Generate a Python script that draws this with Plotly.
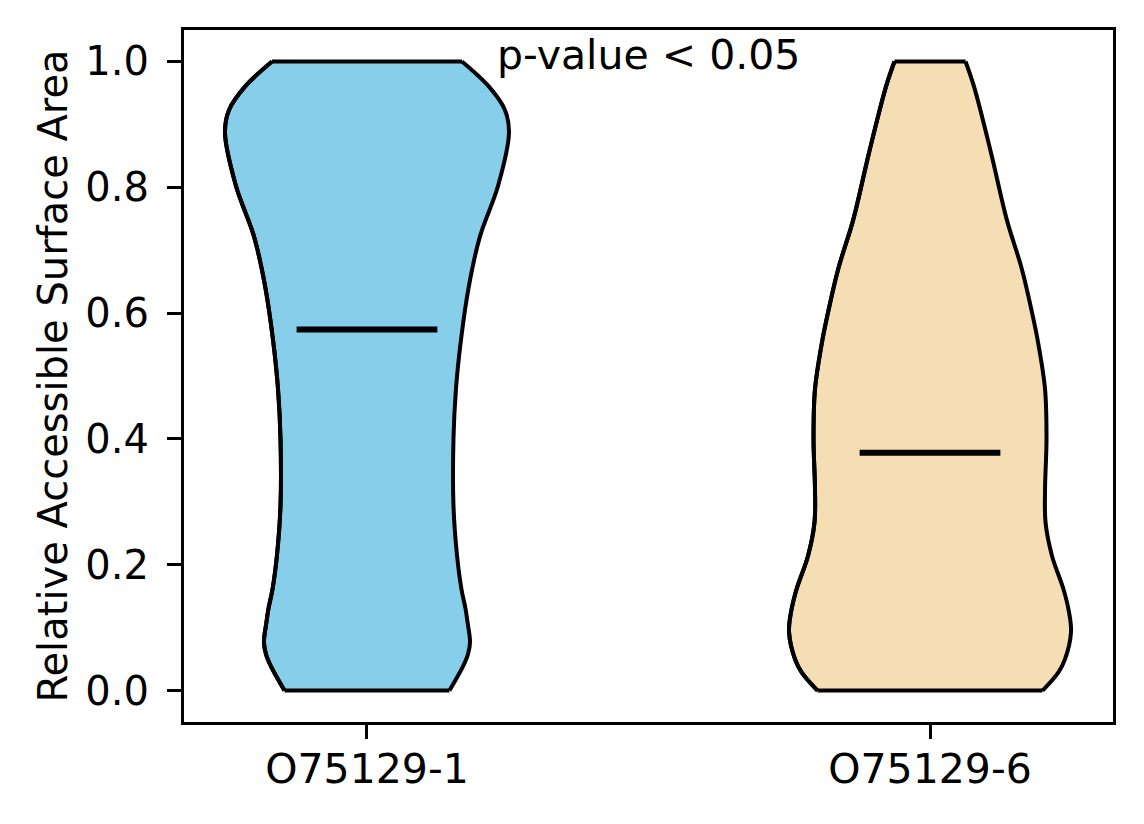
import plotly.graph_objects as go

# Group names and positions on the x axis
groups = ["O75129-1", "O75129-6"]
positions = [1, 2]
colors = ["#87CEEB", "#F5DEB3"]

# Violin outlines: y level and half-width (x units)
blue_y = [0.0, 0.040, 0.058, 0.077, 0.109, 0.130, 0.161, 0.214, 0.294, 0.400, 0.479,
          0.558, 0.643, 0.722, 0.802, 0.887, 0.923, 0.960, 1.0]
blue_hw = [0.1465, 0.1714, 0.1795, 0.183, 0.1785, 0.175, 0.1678, 0.160, 0.1536, 0.1536, 0.158,
           0.167, 0.181, 0.2007, 0.2327, 0.2522, 0.245, 0.2167, 0.1687]

wheat_y = [0.0, 0.029, 0.050, 0.093, 0.124, 0.161, 0.214, 0.267, 0.320, 0.400, 0.479,
           0.558, 0.590, 0.669, 0.749, 0.855, 0.960, 1.0]
wheat_hw = [0.1998, 0.228, 0.2398, 0.2504, 0.247, 0.2371, 0.2167, 0.2052, 0.2043, 0.2069, 0.2043,
            0.191, 0.1838, 0.1634, 0.1362, 0.1083, 0.0782, 0.0631]

medians = [0.574, 0.378]
median_hw = 0.125

y_ticks = [0.0, 0.2, 0.4, 0.6, 0.8, 1.0]
p_text = "p-value < 0.05"

font = "DejaVu Sans"
edge = dict(color="black", width=4, shape="spline", smoothing=1.0)

fig = go.Figure()

profiles = [(blue_y, blue_hw), (wheat_y, wheat_hw)]
for pos, (ys, hws), col in zip(positions, profiles, colors):
    left = [pos - w for w in hws]
    right = [pos + w for w in hws]
    # left side, then right side filled back to it
    fig.add_trace(go.Scatter(x=left, y=ys, mode="lines", line=edge,
                             hoverinfo="skip", showlegend=False))
    fig.add_trace(go.Scatter(x=right, y=ys, mode="lines", line=edge, fill="tonextx",
                             fillcolor=col, hoverinfo="skip", showlegend=False))

# outlines drawn again on top, plus flat top and bottom edges
for pos, (ys, hws) in zip(positions, profiles):
    fig.add_trace(go.Scatter(x=[pos - w for w in hws], y=ys, mode="lines", line=edge,
                             hoverinfo="skip", showlegend=False))
    for i in (0, -1):
        fig.add_trace(go.Scatter(x=[pos - hws[i], pos + hws[i]], y=[ys[i], ys[i]], mode="lines",
                                 line=dict(color="black", width=4), hoverinfo="skip", showlegend=False))

# Median lines
for pos, med in zip(positions, medians):
    fig.add_trace(go.Scatter(x=[pos - median_hw, pos + median_hw], y=[med, med], mode="lines",
                             line=dict(color="black", width=6), showlegend=False))

fig.add_annotation(x=1.5, y=1.01, xref="x", yref="y", text=p_text, showarrow=False,
                   xanchor="center", yanchor="middle", font=dict(size=41, color="black", family=font))

fig.update_layout(
    width=1136, height=816,
    margin=dict(l=176, r=31, t=22, b=102),
    plot_bgcolor="white", paper_bgcolor="white",
    font=dict(family=font, size=41, color="black"),
    showlegend=False,
)
fig.update_xaxes(range=[0.675, 2.325], tickvals=positions, ticktext=groups,
                 ticks="outside", ticklen=14, tickwidth=3.2, tickcolor="black",
                 showline=True, linecolor="black", linewidth=3.2, mirror=True,
                 showgrid=False, zeroline=False, tickfont=dict(size=41), ticklabelstandoff=-5)
fig.update_yaxes(range=[-0.05, 1.05], tickvals=y_ticks, tickformat=".1f",
                 ticks="outside", ticklen=14, tickwidth=3.2, tickcolor="black",
                 showline=True, linecolor="black", linewidth=3.2, mirror=True,
                 showgrid=False, zeroline=False, tickfont=dict(size=40), ticklabelstandoff=10,
                 title=dict(text="Relative Accessible Surface Area", font=dict(size=40), standoff=6))

fig.write_html("out.html")
